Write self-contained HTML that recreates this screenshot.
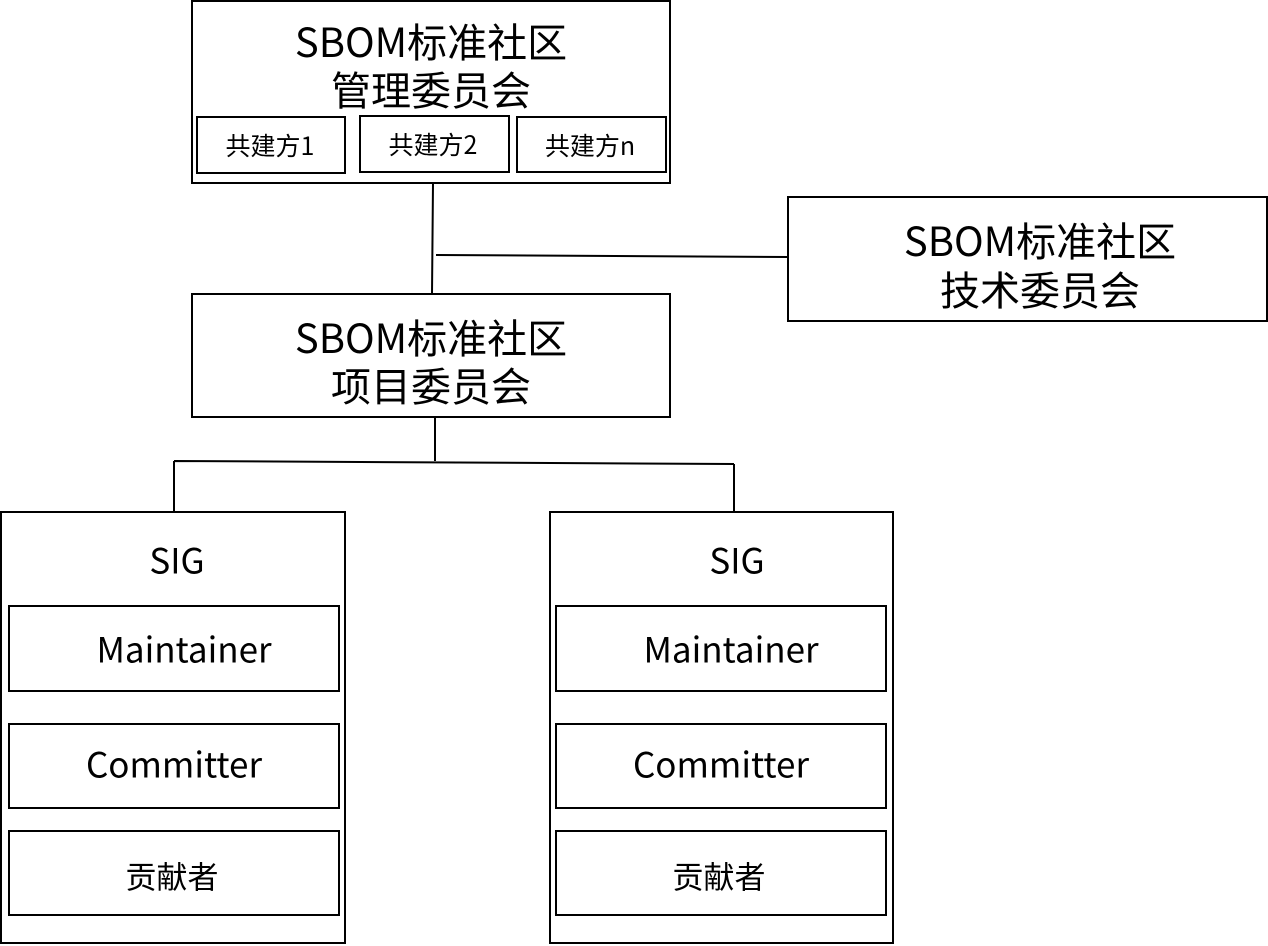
<!DOCTYPE html>
<html><head><meta charset="utf-8"><style>
html,body{margin:0;padding:0;background:#fff;}
svg{display:block;}
text{font-family:"Noto Sans CJK SC","Liberation Sans",sans-serif;fill:#000;}
</style></head><body>
<svg width="1268" height="946" viewBox="0 0 1268 946" xmlns="http://www.w3.org/2000/svg">
<g fill="none" stroke="#000" stroke-width="2">
<rect x="192" y="1" width="478" height="182"/>
<rect x="197" y="117" width="148" height="56"/>
<rect x="360" y="116" width="149" height="56"/>
<rect x="517" y="117" width="149" height="55"/>
<rect x="788" y="197" width="479" height="124"/>
<rect x="192" y="294" width="478" height="123"/>
<rect x="1" y="512" width="344" height="431"/>
<rect x="9" y="606" width="330" height="85"/>
<rect x="9" y="724" width="330" height="84"/>
<rect x="9" y="831" width="330" height="84"/>
<rect x="550" y="512" width="343" height="431"/>
<rect x="556" y="606" width="330" height="85"/>
<rect x="556" y="724" width="330" height="84"/>
<rect x="556" y="831" width="330" height="84"/>
<path d="M433 183 L432 294 M436 255 L788 257 M435 418 L435 461 M174 461 L734 464 M174 461 L174 512 M734 464 L734 512"/>
</g>
<g text-anchor="middle" dominant-baseline="central">
<text x="431" y="40" font-size="40">SBOM标准社区</text>
<text x="431" y="88" font-size="40">管理委员会</text>
<text x="270" y="145" font-size="25">共建方1</text>
<text x="433" y="144" font-size="25">共建方2</text>
<text x="590" y="145" font-size="25">共建方n</text>
<text x="1040" y="239" font-size="40">SBOM标准社区</text>
<text x="1040" y="288" font-size="40">技术委员会</text>
<text x="431" y="336" font-size="40">SBOM标准社区</text>
<text x="431" y="384" font-size="40">项目委员会</text>
<text x="177" y="559" font-size="35">SIG</text>
<text x="184" y="648" font-size="35">Maintainer</text>
<text x="174" y="763" font-size="35">Committer</text>
<text x="172" y="875" font-size="31">贡献者</text>
<text x="737" y="559" font-size="35">SIG</text>
<text x="731" y="648" font-size="35">Maintainer</text>
<text x="721" y="763" font-size="35">Committer</text>
<text x="719" y="875" font-size="31">贡献者</text>
</g>
</svg>
</body></html>
